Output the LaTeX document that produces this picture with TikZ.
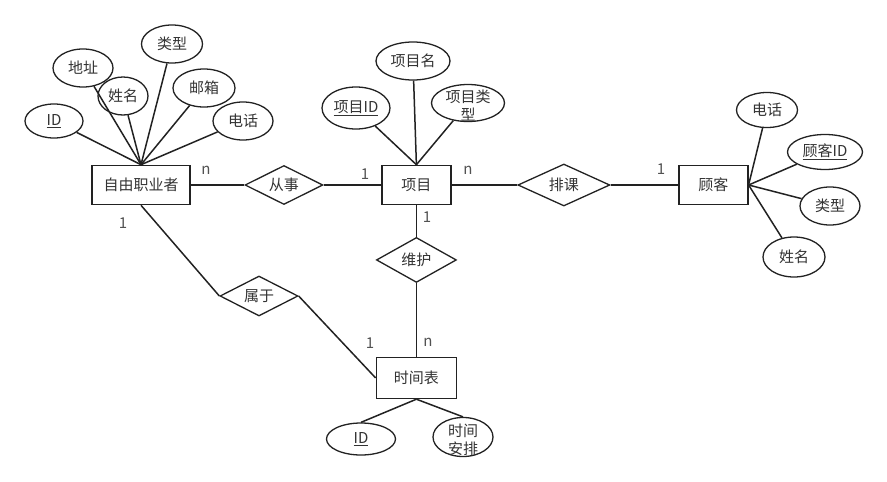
\documentclass[tikz,border=0pt]{standalone}
\usepackage{fontspec}
\setmainfont{Noto Sans CJK SC}
\usepackage{xcolor}
\usepackage{tikz}
\usetikzlibrary{positioning, shapes.geometric}
\definecolor{ink}{RGB}{34,34,34}
\definecolor{txt}{RGB}{51,51,51}
\newcommand{\key}[1]{\underline{#1}}
\newcommand{\twoline}[2]{\smash{\raisebox{-8.5pt}{\begin{tabular}{@{}c@{}}#1\\#2\end{tabular}}}}

\begin{document}
\begin{tikzpicture}[
  x=1pt, y=-1pt,
  every node/.style={font=\fontsize{15}{18}\selectfont, text=txt},
  entity/.style={draw=ink, line width=1.6pt, fill=white, minimum height=39pt, inner sep=2pt},
  attr/.style={ellipse, draw=ink, line width=1.3pt, fill=white, inner sep=0pt},
  rel/.style={diamond, aspect=2, draw=ink, line width=1.3pt, fill=white, inner sep=0pt},
  card/.style={text=txt!85, inner sep=0pt},
  link/.style={draw=ink, line width=1.5pt},
]
\useasboundingbox (0,0) rectangle (887,482);
\node[entity, minimum width=98pt] (free) at (141,185) {自由职业者};
\node[rel, minimum width=78pt, minimum height=39pt, right=53.5pt of free] (engage) {从事};
\node[entity, minimum width=69pt, right=57.5pt of engage] (proj) {项目};
\node[rel, minimum width=92pt, minimum height=42pt, right=65.5pt of proj] (arrange) {排课};
\node[entity, minimum width=69pt, right=67.5pt of arrange] (client) {顾客};
\node[rel, minimum width=80pt, minimum height=45pt, below=31.5pt of proj] (maintain) {维护};
\node[entity, minimum width=80pt, minimum height=41pt, below=73.5pt of maintain] (timetable) {时间表};
\node[rel, minimum width=78pt, minimum height=40pt] (belong) at (259,296) {属于};

\node[attr, minimum width=58pt, minimum height=34pt] (fid) at (54,121) {\key{ID}};
\node[attr, minimum width=60pt, minimum height=38pt] (faddr) at (83,68) {地址};
\node[attr, minimum width=50pt, minimum height=38pt] (fname) at (123,96) {姓名};
\node[attr, minimum width=61pt, minimum height=38pt] (ftype) at (172,44) {类型};
\node[attr, minimum width=62pt, minimum height=38pt] (fmail) at (204,88) {邮箱};
\node[attr, minimum width=60pt, minimum height=38pt] (ftel) at (243,121) {电话};

\node[attr, minimum width=68pt, minimum height=42pt] (pid) at (356,108) {\key{项目ID}};
\node[attr, minimum width=74pt, minimum height=38pt] (pname) at (413,61) {项目名};
\node[attr, minimum width=73pt, minimum height=37pt] (ptype) at (468,103) {\twoline{项目类}{型}};

\node[attr, minimum width=61pt, minimum height=35pt] (ctel) at (767,110) {电话};
\node[attr, minimum width=75pt, minimum height=35pt] (cid) at (825,152) {\key{顾客ID}};
\node[attr, minimum width=60pt, minimum height=38pt] (ctype) at (830,206) {类型};
\node[attr, minimum width=62pt, minimum height=40pt] (cname) at (794,257) {姓名};

\node[attr, minimum width=69pt, minimum height=32pt] (tid) at (361,439) {\key{ID}};
\node[attr, minimum width=60pt, minimum height=39pt] (tplan) at (463,437) {\twoline{时间}{安排}};

\node[card] (c1) at (206,170) {n};
\node[card] (c2) at (365,174) {1};
\node[card] (c3) at (468,170) {n};
\node[card] (c4) at (661,169) {1};
\node[card] (c5) at (427,217) {1};
\node[card] (c6) at (428,342) {n};
\node[card] (c7) at (123,223) {1};
\node[card] (c8) at (370,343) {1};

\draw[link] (free.north) -- (fid);
\draw[link] (free.north) -- (faddr);
\draw[link] (free.north) -- (fname);
\draw[link] (free.north) -- (ftype);
\draw[link] (free.north) -- (fmail);
\draw[link] (free.north) -- (ftel);
\draw[link] (proj.north) -- (pid);
\draw[link] (proj.north) -- (pname);
\draw[link] (proj.north) -- (ptype);
\draw[link] (client.east) -- (ctel);
\draw[link] (client.east) -- (cid);
\draw[link] (client.east) -- (ctype);
\draw[link] (client.east) -- (cname);
\draw[link] (timetable.south) -- (tid.north);
\draw[link] (timetable.south) -- (tplan.north);
\draw[link] (free) -- (engage) -- (proj) -- (arrange) -- (client);
\draw[link] (proj) -- (maintain) -- (timetable);
\draw[link] (free.south) -- (belong.west);
\draw[link] (belong.east) -- (timetable.west);
\end{tikzpicture}
\end{document}
